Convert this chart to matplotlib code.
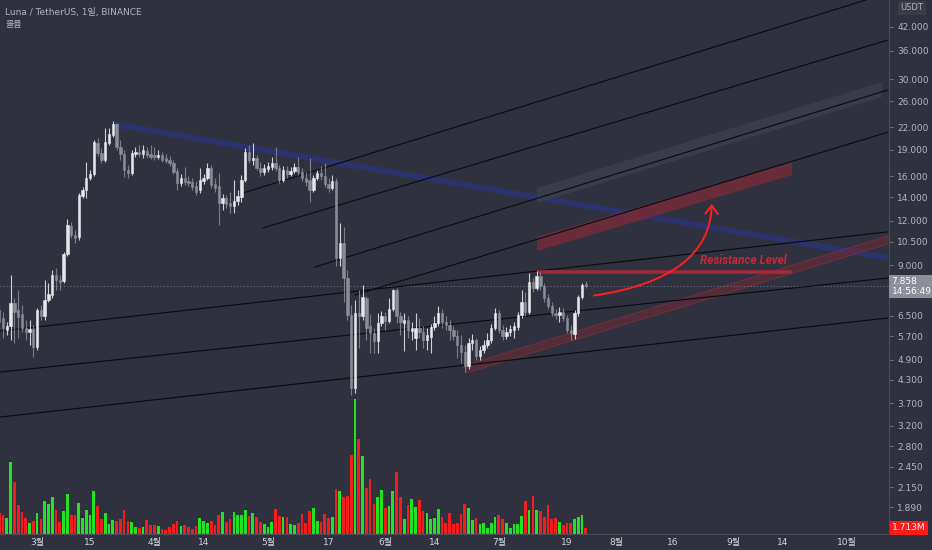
import numpy as np
import pandas as pd
import matplotlib
matplotlib.use("Agg")
import matplotlib.pyplot as plt
from matplotlib.patches import Polygon, FancyArrowPatch
from matplotlib.ticker import NullLocator

plt.rcParams['font.family'] = ['DejaVu Sans', 'Noto Sans CJK KR']

# daily LUNA/USDT candles, first one on 2021-02-19
first_day = '2021-02-19'
opens = [6.75, 6.41, 5.93, 6.09, 7.06, 6.75, 6.58, 6.01, 5.86, 5.97,
         5.31, 6.75, 6.50, 7.20, 7.44, 8.46, 8.19, 8.14, 9.69, 11.62,
         10.96, 10.82, 14.11, 14.65, 15.8, 16.2, 19.8, 18.6, 17.8, 19.8,
         20.9, 22.45, 19.35, 18.5, 16.7, 16.35, 18.5, 18.75, 18.5, 18.9,
         18.5, 18.4, 18.15, 18.4, 18.05, 17.8, 17.45, 16.55, 15.3, 15.8,
         15.5, 15.4, 15.0, 14.65, 15.5, 15.8, 16.9, 15.2, 15.0, 13.45,
         13.9, 13.45, 13.2, 13.65, 14.0, 15.6, 18.75, 17.8, 18.05, 16.9,
         16.45, 16.8, 17.0, 17.45, 16.9, 15.6, 16.7, 16.2, 16.55, 17.0,
         16.45, 15.8, 15.6, 14.65, 15.8, 16.35, 16.0, 15.2, 14.85, 15.5,
         9.45, 10.4, 8.3, 6.54, 4.08, 6.62, 6.50, 7.30, 6.09, 5.82,
         5.52, 6.21, 6.50, 6.29, 6.80, 7.68, 6.50, 6.21, 6.33, 5.90,
         5.63, 6.01, 5.86, 5.56, 5.67, 6.05, 6.21, 6.62, 6.25, 6.13,
         5.93, 5.71, 5.38, 5.14, 4.70, 5.45, 5.56, 5.02, 5.21, 5.38,
         5.56, 6.01, 6.62, 5.93, 5.71, 5.86, 5.93, 6.05, 6.54, 7.11,
         6.66, 8.09, 7.78, 8.41, 7.88, 7.30, 6.93, 6.62, 6.54, 6.66,
         6.41, 5.93, 5.78, 6.62, 7.35, 7.98]
highs = [6.97, 6.66, 6.25, 8.46, 7.30, 7.68, 6.97, 6.33, 6.33, 6.13,
         6.84, 6.97, 8.19, 8.03, 8.74, 8.85, 8.46, 9.82, 12.15, 11.92,
         11.3, 14.38, 14.93, 17.55, 16.7, 20.2, 20.5, 19.25, 21.9, 21.9,
         22.85, 22.6, 20.2, 19.0, 17.2, 19.0, 19.35, 19.6, 19.6, 19.35,
         19.6, 19.35, 19.0, 18.75, 18.5, 18.3, 17.8, 16.9, 16.2, 17.0,
         16.0, 15.8, 15.5, 16.9, 16.2, 17.45, 17.2, 15.8, 16.35, 14.3,
         14.2, 14.45, 15.6, 14.65, 16.1, 19.25, 19.6, 19.85, 18.4, 17.55,
         17.35, 17.55, 18.15, 19.35, 17.2, 17.1, 17.1, 17.0, 17.45, 18.15,
         16.9, 16.45, 18.05, 16.1, 16.7, 17.1, 17.45, 15.8, 16.1, 15.8,
         11.85, 11.55, 8.74, 6.97, 7.20, 7.68, 7.93, 7.40, 6.58, 6.01,
         6.62, 6.71, 6.66, 7.30, 7.73, 7.78, 6.66, 6.62, 6.50, 6.25,
         6.62, 6.41, 6.09, 6.01, 6.17, 6.50, 6.93, 6.80, 6.50, 6.33,
         6.09, 5.93, 5.74, 5.38, 5.63, 5.78, 5.63, 5.35, 5.56, 5.82,
         6.17, 6.84, 6.75, 6.13, 6.05, 6.13, 6.25, 6.66, 7.68, 7.58,
         8.57, 8.30, 8.68, 8.63, 8.03, 7.49, 7.11, 6.80, 6.88, 6.84,
         6.54, 6.13, 6.75, 7.44, 8.03, 8.14]
lows = [5.93, 5.63, 5.74, 5.56, 5.45, 5.63, 5.86, 5.56, 5.38, 4.99,
        5.21, 6.33, 6.33, 7.11, 7.30, 7.68, 7.68, 8.03, 9.57, 10.74,
        10.4, 10.6, 13.92, 13.92, 15.6, 16.0, 18.3, 17.45, 17.55, 19.6,
        20.65, 19.0, 17.8, 15.9, 15.8, 16.1, 18.15, 18.15, 18.05, 18.05,
        17.9, 17.8, 17.9, 17.55, 17.45, 17.1, 16.2, 14.65, 15.0, 15.1,
        15.0, 14.65, 14.2, 14.38, 15.2, 15.6, 14.85, 14.45, 11.7, 12.9,
        13.05, 12.65, 12.65, 13.3, 13.55, 15.4, 17.45, 17.2, 16.7, 16.0,
        16.1, 16.45, 16.7, 16.55, 15.3, 15.4, 15.8, 16.0, 16.35, 16.1,
        15.5, 15.0, 13.55, 14.45, 15.6, 15.6, 14.9, 14.45, 14.65, 8.97,
        8.97, 7.11, 6.33, 3.90, 3.95, 5.28, 6.33, 5.56, 5.11, 5.11,
        5.11, 6.09, 5.93, 6.21, 6.71, 6.21, 5.74, 5.18, 5.63, 5.56,
        5.21, 5.63, 5.28, 5.21, 5.11, 5.93, 6.09, 6.01, 5.93, 5.56,
        5.56, 4.95, 4.79, 4.52, 4.61, 5.21, 4.89, 4.89, 5.11, 5.28,
        5.45, 5.93, 5.82, 5.56, 5.60, 5.71, 5.63, 5.93, 6.41, 6.50,
        6.58, 7.58, 7.68, 7.68, 7.11, 6.80, 6.50, 6.37, 6.25, 6.29,
        5.82, 5.56, 5.60, 6.50, 7.25, 7.78]
closes = [6.25, 6.01, 6.09, 7.06, 6.66, 6.45, 6.01, 5.86, 5.97, 5.31,
          6.75, 6.50, 7.20, 7.49, 8.46, 8.19, 8.09, 9.69, 11.7, 10.96,
          10.74, 14.2, 14.65, 15.8, 16.2, 19.95, 18.6, 17.8, 19.95, 21.05,
          22.45, 19.35, 18.5, 16.7, 16.35, 18.6, 18.75, 18.5, 19.0, 18.4,
          18.15, 18.15, 18.4, 17.8, 17.65, 17.45, 16.45, 15.3, 15.8, 15.4,
          15.3, 14.9, 14.45, 15.6, 15.8, 16.9, 15.1, 14.85, 13.45, 13.9,
          13.35, 13.2, 13.65, 14.1, 15.6, 18.75, 17.8, 18.05, 16.9, 16.45,
          16.9, 17.1, 17.45, 16.9, 15.6, 16.7, 16.2, 16.55, 17.0, 16.45,
          15.8, 15.4, 14.65, 15.8, 16.35, 16.0, 15.2, 14.85, 15.5, 9.45,
          10.4, 8.3, 6.54, 4.08, 6.62, 6.50, 7.35, 6.01, 5.82, 5.52,
          6.21, 6.50, 6.29, 6.80, 7.68, 6.50, 6.25, 6.33, 5.93, 6.01,
          6.01, 5.86, 5.56, 5.74, 6.05, 6.21, 6.62, 6.25, 6.13, 5.93,
          5.71, 5.38, 5.14, 4.70, 5.45, 5.56, 5.02, 5.21, 5.38, 5.56,
          6.01, 6.62, 5.93, 5.71, 5.86, 5.97, 6.09, 6.54, 7.11, 6.66,
          8.09, 7.78, 8.41, 7.88, 7.30, 6.93, 6.62, 6.54, 6.66, 6.41,
          5.93, 5.82, 6.62, 7.35, 7.93, 7.858]
volumes_m = [5.8, 5.3, 4.4, 20.2, 14.6, 8.2, 6.3, 4.4, 2.95, 3.6,
             5.8, 4.1, 9.4, 8.3, 10.5, 6.75, 3.4, 6.5, 11.3, 5.4,
             5.3, 8.7, 4.55, 6.8, 5.3, 12.0, 8.0, 4.1, 5.8, 2.85,
             4.0, 3.6, 4.2, 6.8, 3.6, 3.3, 2.0, 1.7, 2.0, 4.0,
             2.65, 2.5, 2.3, 1.5, 1.2, 1.9, 2.75, 3.6, 2.2, 2.55,
             2.1, 1.5, 2.3, 4.4, 3.6, 3.1, 3.6, 2.55, 5.2, 6.3,
             3.3, 4.1, 6.2, 5.3, 5.3, 6.75, 5.1, 5.9, 4.65, 3.4,
             2.85, 2.0, 3.4, 7.1, 5.1, 4.65, 4.75, 2.85, 2.5, 2.95,
             5.7, 3.1, 6.6, 7.3, 3.6, 3.4, 5.6, 4.55, 4.75, 12.6,
             12.2, 10.5, 10.8, 22.1, 37.9, 26.8, 21.9, 13.0, 15.4, 8.4,
             10.3, 12.3, 7.3, 8.0, 12.2, 17.4, 10.5, 4.3, 8.2, 9.7,
             7.5, 9.6, 6.6, 6.0, 4.2, 4.5, 7.1, 4.85, 3.1, 5.8,
             2.75, 2.95, 5.7, 8.55, 7.3, 4.0, 4.4, 2.85, 3.0, 1.7,
             3.05, 4.75, 5.3, 4.3, 3.05, 1.7, 2.85, 2.85, 5.0, 9.2,
             6.8, 10.7, 6.8, 6.6, 4.85, 8.1, 4.1, 4.55, 3.5, 2.65,
             2.95, 3.05, 4.3, 4.75, 5.4, 1.713]
last_price = 7.858

# drawings: (day offset from 2021-03-01, price)
black_lines = [[(-9.8, 3.38), (224.8, 6.41)],
               [(-9.8, 4.52), (224.8, 8.30)],
               [(-9.8, 5.89), (224.8, 11.18)],
               [(54.4, 14.37), (219.0, 50.0)],
               [(59.7, 11.47), (224.8, 38.6)],
               [(73.4, 8.91), (224.8, 27.96)],
               [(84.0, 7.44), (224.8, 21.3)]]
blue_band = [(20.1, 22.88), (224.8, 9.63), (224.8, 9.27), (20.1, 22.0)]
gray_band = [(132.1, 14.84), (223.3, 29.44), (223.3, 26.72), (132.1, 13.47)]
red_band = [(132.1, 10.82), (199.5, 17.56), (199.5, 16.15), (132.1, 9.88)]
support_band = [(113.3, 4.73), (224.8, 10.89), (224.8, 10.34), (113.3, 4.49)]
resistance = [(132.1, 8.63), (199.5, 8.63)]
arrow_from = (146.4, 7.39)
arrow_to = (178.3, 13.64)
label_pos = (175.2, 9.27)

x_tick_dates = ['2021-03-01', '2021-03-15', '2021-04-01', '2021-04-14', '2021-05-01',
                '2021-05-17', '2021-06-01', '2021-06-14', '2021-07-01', '2021-07-19',
                '2021-08-01', '2021-08-16', '2021-09-01', '2021-09-14', '2021-10-01']
x_tick_labels = ['3월', '15', '4월', '14', '5월', '17', '6월', '14', '7월', '19',
                 '8월', '16', '9월', '14', '10월']
price_ticks = [42, 36, 30, 26, 22, 19, 16, 14, 12, 10.5, 9, 6.5, 5.7, 4.9,
               4.3, 3.7, 3.2, 2.8, 2.45, 2.15, 1.89]

t0 = pd.Timestamp('2021-03-01')
days = np.array((pd.date_range(first_day, periods=len(opens)) - t0).days, dtype=float)
o = np.array(opens); h = np.array(highs); l = np.array(lows); c = np.array(closes)
up = c >= o

BG = '#2f323e'
TXT = '#b2b5be'
fig = plt.figure(figsize=(9.32, 5.5), dpi=100)
fig.patch.set_facecolor(BG)
rect = [0, 16 / 550, 889 / 932, 534 / 550]
axv = fig.add_axes(rect)
ax = fig.add_axes(rect, sharex=axv)
ax.set_facecolor('none')

# volume
vcol = np.where(up, '#1fe41f', '#f41c1c')
axv.bar(days, volumes_m, width=0.72, color=vcol, linewidth=0)
axv.set_ylim(0, 150)
axv.set_axis_off()
axv.text(1.003, 1.713, '1.713M', transform=axv.get_yaxis_transform(), ha='left', va='center',
         fontsize=6.5, color='white', clip_on=False,
         bbox=dict(boxstyle='square,pad=0.25', fc='#ff1a1a', ec='none'))

# bands and trend lines
ax.add_patch(Polygon(blue_band, closed=True, fc='#2b336f', ec='none', alpha=0.95, zorder=1))
ax.add_patch(Polygon(gray_band, closed=True, fc='#3b3e4a', ec='none', alpha=0.9, zorder=1))
ax.add_patch(Polygon(red_band, closed=True, fc='#6e2c3b', ec='none', alpha=0.95, zorder=1))
ax.add_patch(Polygon(support_band, closed=True, fc='#6a2a36', ec='#8e2c3b', lw=0.8, alpha=0.6, zorder=1))
for (x0, y0), (x1, y1) in black_lines:
    ax.plot([x0, x1], [y0, y1], color='#0c0d12', lw=0.85, zorder=2)
(rx0, ry0), (rx1, ry1) = resistance
ax.plot([rx0, rx1], [ry0, ry1], color='#a32839', lw=2.6, solid_capstyle='butt', zorder=2)

ax.axhline(last_price, color='#6c6f7a', lw=0.8, ls=(0, (1, 2)), zorder=1.5)

# candles
wick_col = np.where(up, '#cfd0d5', '#7b7e88')
body_col = np.where(up, '#e6e7ea', '#8a8d96')
ax.vlines(days, l, h, colors=wick_col, lw=0.8, zorder=3)
lo = np.minimum(o, c); hi = np.maximum(o, c)
ax.bar(days, hi - lo, bottom=lo, width=0.62, color=body_col, edgecolor=body_col,
       linewidth=0.4, zorder=4)

# arrow and label
arr = FancyArrowPatch(arrow_from, arrow_to, connectionstyle='angle3,angleA=8,angleB=90',
                      arrowstyle='->,head_length=0.4,head_width=0.3', mutation_scale=15,
                      color='#ff1f1f', lw=1.4, zorder=5)
ax.add_patch(arr)
ax.text(label_pos[0], label_pos[1], 'Resistance Level', color='#c52a3c', fontsize=8.5,
        style='italic', fontweight='semibold', family=['Roboto', 'DejaVu Sans'],
        ha='left', va='center', zorder=5)

# axes
ax.set_yscale('log')
ax.set_xlim(-9.8, 225.1)
ax.set_ylim(1.588, 50.0)
ax.yaxis.tick_right()
ax.set_yticks(price_ticks)
ax.set_yticklabels([f'{t:.3f}' for t in price_ticks])
ax.yaxis.set_minor_locator(NullLocator())
ax.tick_params(axis='y', colors='#6b6e79', labelcolor=TXT, labelsize=6.5, length=3, pad=3)
x_pos = (pd.to_datetime(x_tick_dates) - t0).days
ax.set_xticks(x_pos)
ax.set_xticklabels(x_tick_labels)
ax.tick_params(axis='x', colors='#6b6e79', labelcolor='#d1d4dc', labelsize=6.5, length=0, pad=3)
for s in ['top', 'left']:
    ax.spines[s].set_visible(False)
for s in ['right', 'bottom']:
    ax.spines[s].set_color('#4a4d58')
    ax.spines[s].set_linewidth(0.8)

ax.text(1.003, last_price, '7.858\n14:56:49', transform=ax.get_yaxis_transform(), ha='left',
        va='center', fontsize=6.5, color='white', linespacing=1.05, clip_on=False,
        bbox=dict(boxstyle='square,pad=0.25', fc='#8c8f99', ec='none'), zorder=6)

fig.text(912 / 932, 1 - 8 / 550, 'USDT', ha='center', va='center', fontsize=6, color=TXT,
         bbox=dict(boxstyle='square,pad=0.3', fc='#3a3d48', ec='none'))
fig.text(5 / 932, 1 - 12 / 550, 'Luna / TetherUS, 1일, BINANCE', fontsize=6.5, color=TXT,
         ha='left', va='center')
fig.text(5 / 932, 1 - 24 / 550, '볼륨', fontsize=6.5, color=TXT, ha='left', va='center')

fig.savefig('out.png', dpi=100, facecolor=BG)
